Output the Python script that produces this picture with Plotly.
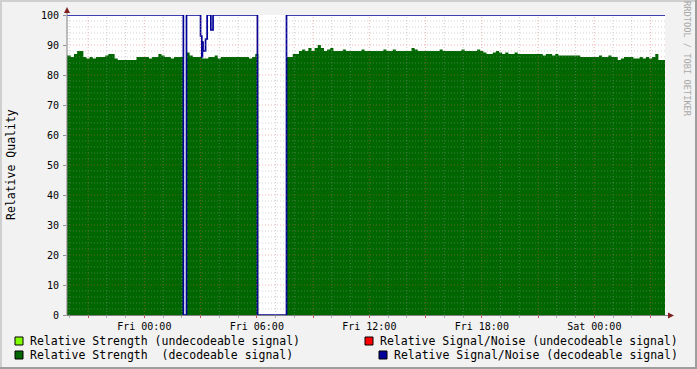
import plotly.graph_objects as go
from datetime import datetime, timedelta

# ---------------- data ----------------
strength_first_start = "2009-12-31 19:45"   # 10-minute consolidation steps
strength_step_min = 10
strength = (
    [86.5,
     86.5, 86, 87, 88, 88, 86, 85.5, 86, 85.5, 86, 86, 86, 86.5, 87, 87, 85.5, 85, 85, 85, 85,
     85, 85, 86, 86, 86, 86, 85.5, 86, 86, 87, 86.5, 86, 86, 85.5, 86, 86, 86]
    + [None]
    + [87.5, 86.5, 86, 86, 86, 85.5, 85.5, 86, 86, 86.5, 85.5, 86, 86, 86, 86, 86, 86, 86, 86,
       86, 85.5, 86, 87]
    + [None] * 9
    + [86, 86, 87, 87, 88, 88.5, 88, 89, 88, 89, 90, 89, 88, 88.5, 89, 88, 88, 88, 88.5, 88,
       88, 88, 88, 88, 88.5, 88, 88, 88, 88, 88, 88, 88.5, 88, 88, 88.5, 88, 88, 88, 88, 88,
       89, 88.5, 88, 88, 88, 88, 88, 88, 88, 88.5, 88, 88, 88, 88, 88, 88, 88.5, 88, 88, 88,
       88, 88.5, 88, 87.5, 87, 87, 87.5, 88, 87.5, 87, 87.5, 87, 87, 87.5, 87, 87, 87, 87, 87,
       87, 87, 87, 86.5, 87, 87, 86.5, 87, 86.5, 86.5, 86.5, 86.5, 86.5, 86.5, 86.5, 86, 86,
       86, 86, 86, 86, 86.5, 86, 86, 86.5, 86, 86, 85, 85.5, 86, 86, 86, 85.5, 85.5, 86, 85.5,
       86, 85.5, 86, 87, 85, 85, 85]
)

snr_times = ["2009-12-31 19:40", "2010-01-01 02:05", "2010-01-01 02:15", "2010-01-01 03:00",
             "2010-01-01 03:04", "2010-01-01 03:06", "2010-01-01 03:08", "2010-01-01 03:16",
             "2010-01-01 03:21", "2010-01-01 03:33", "2010-01-01 03:40", "2010-01-01 06:02",
             "2010-01-01 07:35", "2010-01-02 04:00"]
snr_values = [100, 0, 100, 93, 86, 91, 88, 92, 100, 95, 100, 0, 100, 100]

x_range = ["2009-12-31 19:52:36", "2010-01-02 03:46:12"]
x_label_times = ["2010-01-01 00:00", "2010-01-01 06:00", "2010-01-01 12:00",
                 "2010-01-01 18:00", "2010-01-02 00:00"]
x_labels = ["Fri 00:00", "Fri 06:00", "Fri 12:00", "Fri 18:00", "Sat 00:00"]
y_ticks = [0, 10, 20, 30, 40, 50, 60, 70, 80, 90, 100]

legend_items = [
    ("Relative Strength (undecodeable signal)", "#80ff00"),
    ("Relative Signal/Noise (undecodeable signal)", "#ff0000"),
    ("Relative Strength\u00a0 (decodeable signal)", "#006600"),
    ("Relative Signal/Noise (decodeable signal)", "#000099"),
]

# ---------------- layout geometry ----------------
W, H = 697, 369
L, R, T, B = 67, 32, 15, 54
PW = W - L - R
PH = H - T - B
MONO = "DejaVu Sans Mono"


def px(x):
    return (x - L) / PW


def py(y):
    return (H - B - y) / PH


# step area: each value holds for one consolidation step; unknown steps drop to zero
t0 = datetime.fromisoformat(strength_first_start)
step = timedelta(minutes=strength_step_min)
sx, sy = [], []
prev = None
for i, v in enumerate(strength):
    start = t0 + step * i
    if v is None:
        if prev is not None:
            sx.append(start)
            sy.append(0)
        prev = None
        continue
    if prev is None and sx:
        sx.append(start)
        sy.append(0)
    sx.append(start)
    sy.append(v)
    prev = v
if prev is not None:
    sx.append(t0 + step * len(strength))
    sy.append(prev)

fig = go.Figure()
fig.add_trace(go.Scatter(
    x=sx, y=sy, mode="lines", fill="tozeroy", fillcolor="#006600",
    line=dict(color="#006600", width=0, shape="hv"),
    showlegend=False, hoverinfo="skip",
))
fig.add_trace(go.Scatter(
    x=snr_times, y=snr_values, mode="lines",
    line=dict(color="#000099", width=1.7, shape="hv"),
    showlegend=False, hoverinfo="skip", cliponaxis=False,
))

shapes = []
xs = datetime.fromisoformat("2009-12-31 20:00")
xe = datetime.fromisoformat("2010-01-02 03:00")
t = xs
while t <= xe:
    major = t.hour % 3 == 0
    shapes.append(dict(type="line", xref="x", yref="paper", x0=t, x1=t, y0=0, y1=1, layer="above",
                       line=dict(color="rgba(222,90,90,0.45)" if major else "rgba(150,150,150,0.45)",
                                 width=1, dash="1px,2px")))
    t += timedelta(hours=1)
for yv in range(2, 100, 2):
    major = yv % 10 == 0
    shapes.append(dict(type="line", xref="paper", yref="y", x0=0, x1=1, y0=yv, y1=yv, layer="above",
                       line=dict(color="rgba(222,90,90,0.45)" if major else "rgba(150,150,150,0.45)",
                                 width=1, dash="1px,2px")))

shapes.append(dict(type="line", xref="paper", yref="paper", x0=px(67), x1=px(67), y0=py(315.5), y1=py(10),
                   line=dict(color="#808080", width=1), layer="above"))
shapes.append(dict(type="line", xref="paper", yref="paper", x0=px(66.5), x1=px(670), y0=py(315.5), y1=py(315.5),
                   line=dict(color="#808080", width=1), layer="above"))
shapes.append(dict(type="path", xref="paper", yref="paper",
                   path=f"M {px(64)} {py(13)} L {px(70)} {py(13)} L {px(67)} {py(7)} Z",
                   fillcolor="#801f1f", line=dict(width=0), layer="above"))
shapes.append(dict(type="path", xref="paper", yref="paper",
                   path=f"M {px(668)} {py(312.5)} L {px(668)} {py(318.5)} L {px(674)} {py(315.5)} Z",
                   fillcolor="#801f1f", line=dict(width=0), layer="above"))

shapes.append(dict(type="rect", xref="paper", yref="paper", x0=px(0), x1=px(W), y0=py(0), y1=py(2),
                   fillcolor="#cfcfcf", line=dict(width=0)))
shapes.append(dict(type="rect", xref="paper", yref="paper", x0=px(0), x1=px(2), y0=py(0), y1=py(H),
                   fillcolor="#cfcfcf", line=dict(width=0)))
shapes.append(dict(type="rect", xref="paper", yref="paper", x0=px(0), x1=px(W), y0=py(H - 2), y1=py(H),
                   fillcolor="#9e9e9e", line=dict(width=0)))
shapes.append(dict(type="rect", xref="paper", yref="paper", x0=px(W - 2), x1=px(W), y0=py(0), y1=py(H),
                   fillcolor="#9e9e9e", line=dict(width=0)))

annotations = []
legend_pos = [(15, 341, 28), (365, 341, 378), (15, 355, 28), (379, 355, 392)]
for (label, color), (bx, cy, tx) in zip(legend_items, legend_pos):
    shapes.append(dict(type="rect", xref="paper", yref="paper",
                       x0=px(bx), x1=px(bx + 8), y0=py(cy - 4), y1=py(cy + 4),
                       fillcolor=color, line=dict(color="#000000", width=1)))
    annotations.append(dict(xref="paper", yref="paper", x=px(tx), y=py(cy), text=label,
                            showarrow=False, xanchor="left", yanchor="middle",
                            font=dict(family=MONO, size=11.5, color="#000000")))

annotations.append(dict(xref="paper", yref="paper", x=px(11), y=py(165), text="Relative Quality",
                        textangle=-90, showarrow=False, xanchor="center", yanchor="middle",
                        font=dict(family=MONO, size=11.5, color="#000000")))
annotations.append(dict(xref="paper", yref="paper", x=px(687), y=py(59), text="RRDTOOL / TOBI OETIKER",
                        textangle=90, showarrow=False, xanchor="center", yanchor="middle",
                        font=dict(family=MONO, size=8.7, color="#a8a8a8")))

tick_vals = []
tick_text = []
t = datetime.fromisoformat("2009-12-31 21:00")
lab = dict(zip(x_label_times, x_labels))
while t <= datetime.fromisoformat("2010-01-02 03:00"):
    tick_vals.append(t)
    tick_text.append(lab.get(t.strftime("%Y-%m-%d %H:%M"), ""))
    t += timedelta(hours=3)

fig.update_layout(
    width=W, height=H,
    margin=dict(l=L, r=R, t=T, b=B, pad=0),
    paper_bgcolor="#f2f2f2", plot_bgcolor="#ffffff",
    shapes=shapes, annotations=annotations,
    showlegend=False,
    xaxis=dict(type="date", range=x_range, showgrid=False, zeroline=False, showline=False,
               automargin=False,
               tickmode="array", tickvals=tick_vals, ticktext=tick_text,
               ticks="outside", ticklen=2, tickcolor="#d05050", tickwidth=1,
               tickfont=dict(family=MONO, size=10, color="#000000"),
               minor=dict(ticks="outside", ticklen=2, tickcolor="#b0b0b0", dtick=3600000, showgrid=False)),
    yaxis=dict(range=[0, 100], showgrid=False, zeroline=False, showline=False,
               automargin=False,
               tickmode="array", tickvals=y_ticks, ticktext=[str(v) for v in y_ticks],
               ticks="outside", ticklen=3, tickcolor="#909090", tickwidth=1,
               tickfont=dict(family=MONO, size=10, color="#000000"), ticklabelstandoff=2),
)

fig.write_html("out.html")
